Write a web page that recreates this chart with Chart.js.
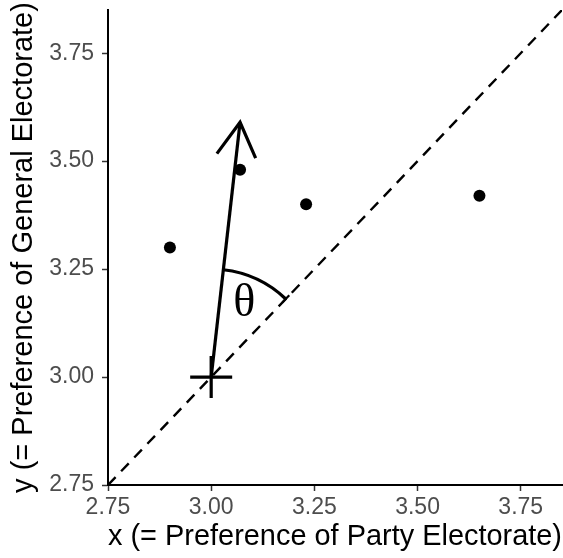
<!DOCTYPE html>
<html>
<head>
<meta charset="utf-8">
<script src="https://cdn.jsdelivr.net/npm/chart.js@4.4.1/dist/chart.umd.min.js"></script>
<style>
  html, body { margin: 0; padding: 0; background: #fff; }
  #wrap { width: 563px; height: 558px; }
</style>
</head>
<body>
<div id="wrap"><canvas id="chart"></canvas></div>
<script>
// Values
const pointX = [2.90, 3.07, 3.23, 3.65];
const pointY = [3.30, 3.48, 3.40, 3.42];
const originXY = [3.00, 3.00];   // the "+" marker
const arrowEnd = [3.07, 3.59];   // tip of the arrow
const diagonal = [2.75, 3.85];   // y = x reference line
const xTicks = [2.75, 3.00, 3.25, 3.50, 3.75];
const yTicks = [2.75, 3.00, 3.25, 3.50, 3.75];
const axisRange = [2.75, 3.85];
const thetaAt = [3.08, 3.17];

const FONT = '"Liberation Sans", Arial, sans-serif';

// Arrow head, angle arc and theta label
const annotations = {
    id: 'annotations',
    afterDatasetsDraw(chart) {
        const { ctx, scales: { x, y } } = chart;
        const ox = x.getPixelForValue(originXY[0]);
        const oy = y.getPixelForValue(originXY[1]);
        const tx = x.getPixelForValue(arrowEnd[0]);
        const ty = y.getPixelForValue(arrowEnd[1]);
        const ang = Math.atan2(ty - oy, tx - ox);

        ctx.save();
        ctx.strokeStyle = '#000';
        ctx.lineWidth = 3.2;
        ctx.lineJoin = 'miter';
        ctx.lineCap = 'butt';

        // open arrow head
        const len = 39, spread = Math.PI / 6;
        ctx.beginPath();
        ctx.moveTo(tx - len * Math.cos(ang - spread), ty - len * Math.sin(ang - spread));
        ctx.lineTo(tx, ty);
        ctx.lineTo(tx - len * Math.cos(ang + spread), ty - len * Math.sin(ang + spread));
        ctx.stroke();

        // arc between the arrow and the diagonal
        const dAng = Math.atan2(
            y.getPixelForValue(diagonal[1]) - y.getPixelForValue(diagonal[0]),
            x.getPixelForValue(diagonal[1]) - x.getPixelForValue(diagonal[0])
        );
        const r = 108;
        ctx.beginPath();
        ctx.arc(ox, oy, r, ang, dAng);
        ctx.stroke();

        // small flat cap at the end of the arc
        const ex = ox + r * Math.cos(dAng), ey = oy + r * Math.sin(dAng);
        ctx.lineWidth = 2.2;
        ctx.beginPath();
        ctx.moveTo(ex - 5 * Math.cos(dAng), ey - 5 * Math.sin(dAng));
        ctx.lineTo(ex + 5 * Math.cos(dAng), ey + 5 * Math.sin(dAng));
        ctx.stroke();

        // theta
        ctx.fillStyle = '#000';
        ctx.font = '46px "Liberation Serif", "DejaVu Serif", serif';
        ctx.textAlign = 'center';
        ctx.textBaseline = 'middle';
        ctx.fillText('θ', x.getPixelForValue(thetaAt[0]), y.getPixelForValue(thetaAt[1]));
        ctx.restore();
    }
};

function axisOptions(tickValues, titleText, isX) {
    return {
        type: 'linear',
        min: axisRange[0],
        max: axisRange[1],
        afterBuildTicks: (s) => { s.ticks = tickValues.map(v => ({ value: v })); },
        afterFit: (s) => {
            if (isX) s.height = 73; else s.width = 108;
            // no extra room for half labels at the ends
            s.paddingLeft = s.paddingRight = s.paddingTop = s.paddingBottom = 0;
        },
        grid: {
            drawOnChartArea: false,
            drawTicks: true,
            tickLength: 6,
            tickWidth: 1.5,
            tickColor: '#333'
        },
        border: { display: true, color: '#000', width: 2 },
        ticks: {
            color: '#4d4d4d',
            font: { family: FONT, size: 23 },
            padding: isX ? 3 : 8,
            autoSkip: false,
            maxRotation: 0,
            callback: v => v.toFixed(2)
        },
        title: {
            display: true,
            text: titleText,
            color: '#000',
            font: { family: FONT, size: 29 },
            padding: isX ? { top: 0, bottom: 4 } : { top: 7, bottom: 0 }
        }
    };
}

const points = pointX.map((v, i) => ({ x: v, y: pointY[i] }));

new Chart(document.getElementById('chart'), {
    type: 'scatter',
    data: {
        datasets: [
            {
                label: 'points',
                data: points,
                pointRadius: 6,
                borderWidth: 0,
                backgroundColor: '#000'
            },
            {
                label: 'origin',
                data: [{ x: originXY[0], y: originXY[1] }],
                pointStyle: 'cross',
                pointRadius: 21,
                borderWidth: 3.2,
                borderColor: '#000'
            },
            {
                label: 'arrow',
                data: [{ x: originXY[0], y: originXY[1] }, { x: arrowEnd[0], y: arrowEnd[1] }],
                showLine: true,
                borderColor: '#000',
                borderWidth: 3.2,
                pointRadius: 0
            },
            {
                label: 'diagonal',
                data: [{ x: diagonal[0], y: diagonal[0] }, { x: diagonal[1], y: diagonal[1] }],
                showLine: true,
                borderColor: '#000',
                borderWidth: 2.4,
                borderDash: [11, 8],
                pointRadius: 0
            }
        ]
    },
    options: {
        responsive: true,
        maintainAspectRatio: false,
        animation: false,
        events: [],
        layout: { autoPadding: false, padding: { top: 10, right: 1, left: 0, bottom: 0 } },
        plugins: {
            legend: { display: false },
            tooltip: { enabled: false }
        },
        scales: {
            x: axisOptions(xTicks, 'x (= Preference of Party Electorate)', true),
            y: axisOptions(yTicks, 'y (= Preference of General Electorate)', false)
        }
    },
    plugins: [annotations]
});
</script>
</body>
</html>
